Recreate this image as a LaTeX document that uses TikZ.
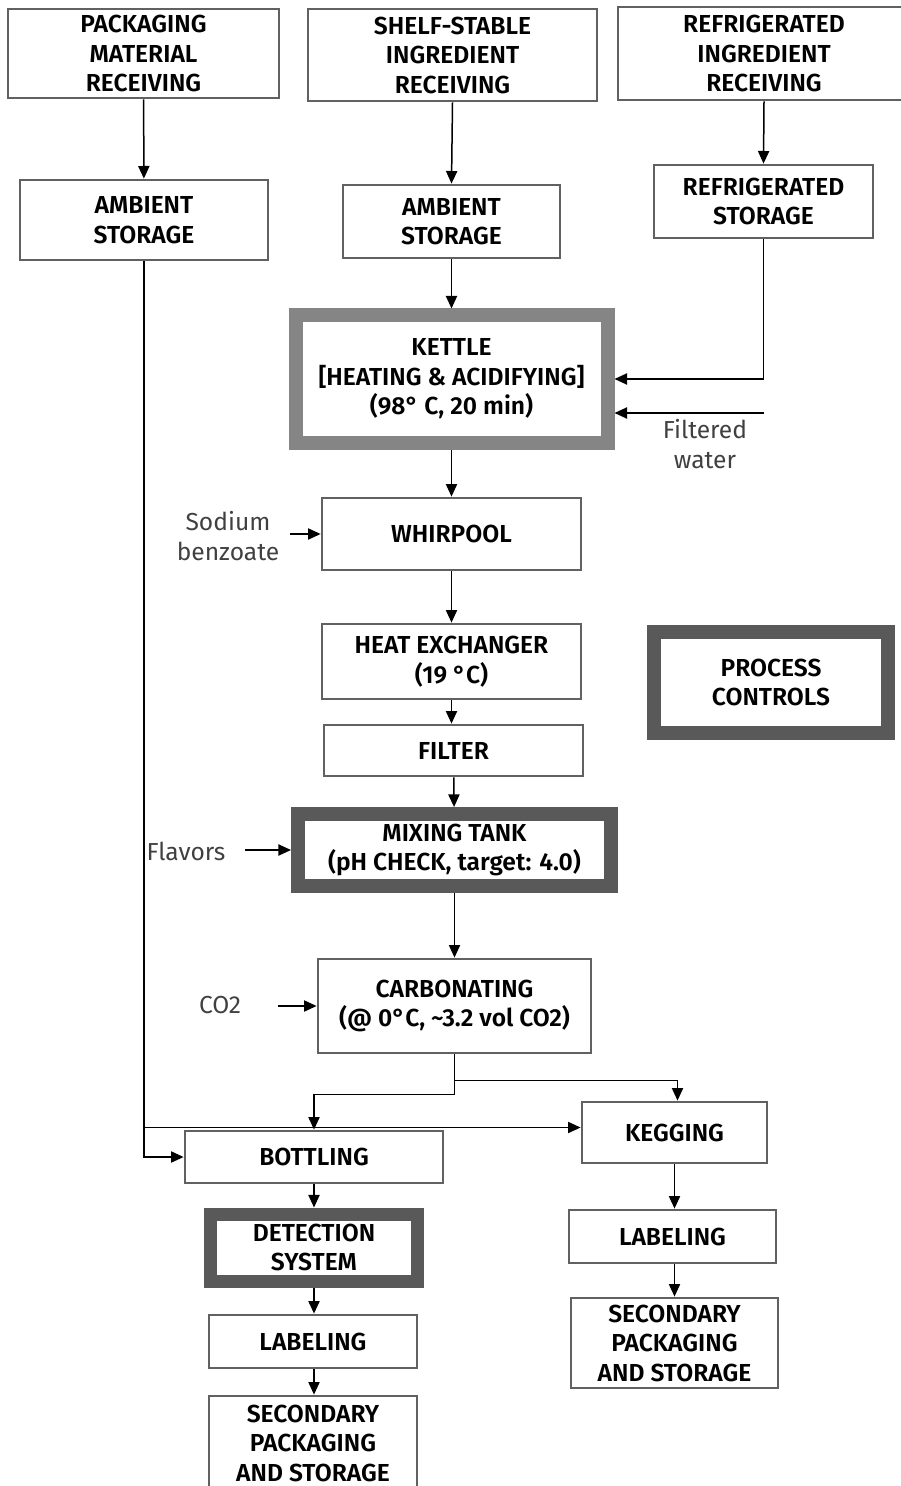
\documentclass[tikz,border=0pt]{standalone}
\usepackage{fontspec}
\setmainfont{Fira Sans}[BoldFont={Fira Sans SemiBold}]
\usetikzlibrary{arrows.meta}
\begin{document}
\begin{tikzpicture}[x=0.5pt, y=-0.5pt, >={Triangle[length=6.3pt,width=5.6pt]},
  box/.style={draw=black!62, line width=1.4pt, fill=white, inner sep=0pt, align=center,
    font=\fontsize{12.3}{14.75}\selectfont\bfseries},
  ctrl/.style={box, line width=7pt},
  note/.style={align=center, text=black!75, font=\fontsize{12.3}{14.6}\selectfont},
  flow/.style={->, line width=0.75pt}]
\useasboundingbox (0,0) rectangle (900,1486);
% receiving
\node[box, minimum width=135.5pt, minimum height=44.5pt] (pmr) at (143.5,53.5) {PACKAGING\\MATERIAL\\RECEIVING};
\node[box, minimum width=144.5pt, minimum height=46pt] (ssr) at (452.5,55) {SHELF-STABLE\\INGREDIENT\\RECEIVING};
\node[box, minimum width=146pt, minimum height=46.5pt] (rir) at (764,53.5) {REFRIGERATED\\INGREDIENT\\RECEIVING};
% storage
\node[box, minimum width=124pt, minimum height=40pt] (amb1) at (144,220) {AMBIENT\\STORAGE};
\node[box, minimum width=108.5pt, minimum height=36.5pt] (amb2) at (451.5,221.5) {AMBIENT\\STORAGE};
\node[box, minimum width=109.5pt, minimum height=36.5pt] (refr) at (763.5,201.5) {REFRIGERATED\\STORAGE};
% hot side
\node[ctrl, draw=black!48, minimum width=156pt, minimum height=63.5pt] (kettle) at (451.5,379) {KETTLE\\{}[HEATING \& ACIDIFYING]\\(98° C, 20 min)};
\node[box, minimum width=129.5pt, minimum height=36pt] (whirl) at (451.5,534) {WHIRPOOL};
\node[box, minimum width=129.5pt, minimum height=37.5pt] (hx) at (451.5,661.5) {HEAT EXCHANGER\\(19 °C)};
\node[box, minimum width=129.5pt, minimum height=25.5pt] (filter) at (453.5,750.5) {FILTER};
\node[ctrl, draw=black!65, minimum width=156.5pt, minimum height=36pt] (mix) at (454.5,850) {MIXING TANK\\(pH CHECK, target: 4.0)};
\node[ctrl, draw=black!65, minimum width=117pt, minimum height=50.5pt] (pc) at (771,682.5) {PROCESS\\CONTROLS};
\node[box, minimum width=136.5pt, minimum height=47pt] (carb) at (454.5,1006) {CARBONATING\\(@ 0°C, \textasciitilde3.2 vol CO2)};
% bottle line
\node[box, minimum width=129pt, minimum height=26pt] (bot) at (314,1157) {BOTTLING};
\node[ctrl, draw=black!65, line width=6.5pt, minimum width=103.5pt, minimum height=33.5pt] (det) at (314,1247.5) {DETECTION\\SYSTEM};
\node[box, minimum width=104pt, minimum height=26.5pt] (lab1) at (313,1341.5) {LABELING};
\node[box, minimum width=104pt, minimum height=47pt] (sec1) at (313,1443) {SECONDARY\\PACKAGING\\AND STORAGE};
% keg line
\node[box, minimum width=92.5pt, minimum height=30.5pt] (keg) at (674.5,1132.5) {KEGGING};
\node[box, minimum width=103.5pt, minimum height=26.5pt] (lab2) at (672.5,1236.5) {LABELING};
\node[box, minimum width=103.5pt, minimum height=45pt] (sec2) at (674.5,1343) {SECONDARY\\PACKAGING\\AND STORAGE};
% inputs
\node[note] (sodium) at (228,536) {Sodium\\benzoate};
\node[note] (water) at (705,444) {Filtered\\water};
\node[note] (flav) at (186,851) {Flavors};
\node[note] (co2) at (220,1005) {CO2};
\coordinate (sb) at (290,534);
\coordinate (fw) at (764,413);
\coordinate (fl) at (245,850);
\coordinate (cg) at (278,1006);
% connectors
\draw[flow] (pmr) -- (amb1);
\draw[flow] (ssr.south) -- (amb2.north);
\draw[flow] (rir.south) -- (refr.north);
\draw[flow] (amb2) -- (kettle);
\draw[flow] (refr.south) |- (kettle.east);
\draw[flow] (fw) -- (fw -| kettle.east);
\draw[flow] (kettle) -- (whirl);
\draw[flow] (sb) -- (whirl.west);
\draw[flow] (whirl) -- (hx);
\draw[flow] (hx.south) -- (hx.south |- filter.north);
\draw[flow] (filter) -- (mix);
\draw[flow] (fl) -- (mix.west);
\draw[flow] (mix.south) -- (mix.south |- carb.north);
\draw[flow] (cg) -- (carb.west);
\draw[flow] (carb.south) -- ++(0,26) -| ([xshift=1.5pt]keg.north);
\draw[flow] (carb.south) -- ++(0,40) -| (bot.north);
\draw[flow] (amb1.south) |- ([yshift=2.5pt]keg.west);
\draw[flow] (amb1.south) |- (bot.west);
\draw[flow] (bot) -- (det);
\draw[flow] (det) -- (lab1.north -| det.south);
\draw[flow] (lab1.south -| det.south) -- (sec1.north -| det.south);
\draw[flow] (keg.south) -- (keg.south |- lab2.north);
\draw[flow] (lab2.south -| keg.south) -- (sec2.north -| keg.south);
\end{tikzpicture}
\end{document}
